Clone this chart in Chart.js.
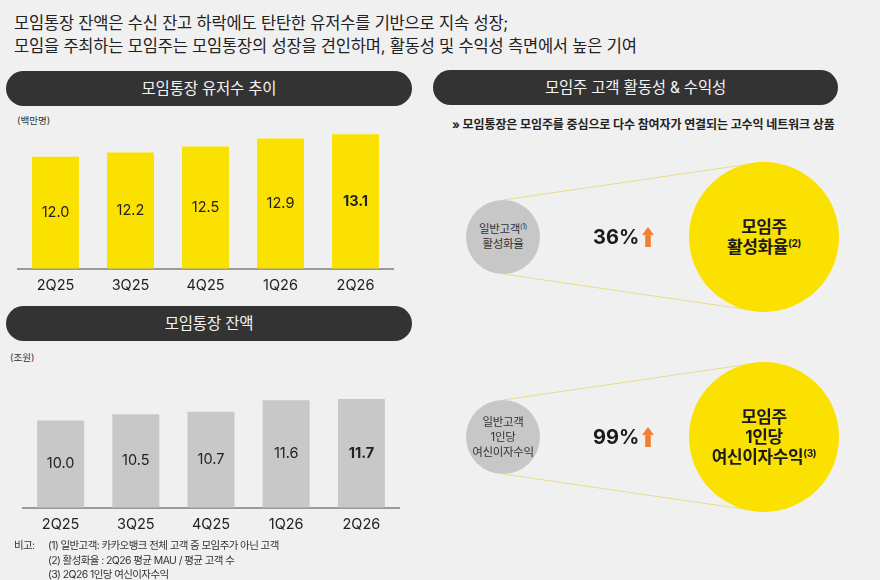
<!DOCTYPE html>
<html lang="ko">
<head>
<meta charset="utf-8">
<script src="https://cdn.jsdelivr.net/npm/chart.js@4.4.1/dist/chart.umd.min.js"></script>
<style>
  html, body { margin: 0; padding: 0; }
  body {
    width: 880px; height: 580px; position: relative; overflow: hidden;
    background: #f0f0f0; color: #222;
    font-family: Inter, "Noto Sans CJK KR", "Noto Sans", sans-serif;
  }
  .abs { position: absolute; }
  .title { left: 14px; top: 12px; font-size: 16.5px; line-height: 23px; letter-spacing: -0.2px; color: #222; }
  .pill {
    background: #333; color: #f4f4f4; border-radius: 18px; height: 35px;
    line-height: 35px; text-align: center; font-size: 15.5px; letter-spacing: -0.2px;
  }
  .unit { font-size: 9.5px; color: #333; }
  .sub { left: 452px; top: 115px; font-size: 12px; font-weight: 700; color: #222; letter-spacing: -0.1px; }
  .circle { border-radius: 50%; display: flex; align-items: center; justify-content: center; text-align: center; }
  .gray { background: #c7c7c7; width: 74px; height: 74px; color: #333; font-size: 11.5px; line-height: 15px; letter-spacing: -0.3px; }
  .yellow { background: #fae100; width: 150px; height: 150px; color: #1a1a1a; font-size: 17px; font-weight: 700; line-height: 20px; letter-spacing: -0.4px; }
  sup { font-size: 0.6em; vertical-align: 0.55em; line-height: 0; }
  .pct { font-size: 20px; font-weight: 700; color: #1a1a1a; display: flex; align-items: center; gap: 3px; }
  .note { left: 14px; top: 539px; font-size: 10.5px; line-height: 14.5px; color: #333; letter-spacing: -0.6px; }
  .note td { padding: 0; vertical-align: top; }
</style>
</head>
<body>

<div class="abs title">모임통장 잔액은 수신 잔고 하락에도 탄탄한 유저수를 기반으로 지속 성장;<br>모임을 주최하는 모임주는 모임통장의 성장을 견인하며, 활동성 및 수익성 측면에서 높은 기여</div>

<div class="abs pill" style="left:6px; top:71px; width:406px;">모임통장 유저수 추이</div>
<div class="abs unit" style="left:17px; top:113px;">(백만명)</div>
<canvas id="users" class="abs" style="left:0; top:110px;" width="410" height="192"></canvas>

<div class="abs pill" style="left:6px; top:306px; width:406px;">모임통장 잔액</div>
<div class="abs unit" style="left:10px; top:350px;">(조원)</div>
<canvas id="balance" class="abs" style="left:0; top:380px;" width="420" height="161"></canvas>

<div class="abs pill" style="left:433px; top:70px; width:405px;">모임주 고객 활동성 &amp; 수익성</div>
<div class="abs sub">» 모임통장은 모임주를 중심으로 다수 참여자가 연결되는 고수익 네트워크 상품</div>

<svg class="abs" style="left:0; top:0;" width="880" height="580">
  <g stroke="#e9dc8c" stroke-width="1" fill="none">
    <line x1="503" y1="200" x2="764" y2="162"></line>
    <line x1="503" y1="274" x2="764" y2="312"></line>
    <line x1="503" y1="400" x2="764" y2="362"></line>
    <line x1="503" y1="474" x2="764" y2="512"></line>
  </g>
</svg>

<div class="abs circle gray" style="left:466px; top:200px;"><div>일반고객<sup>(1)</sup><br>활성화율</div></div>
<div class="abs circle yellow" style="left:689px; top:162px;"><div>모임주<br>활성화율<sup>(2)</sup></div></div>
<div class="abs pct" id="pct0" style="left:593px; top:225px;"></div>

<div class="abs circle gray" style="left:466px; top:400px;"><div>일반고객<br>1인당<br>여신이자수익</div></div>
<div class="abs circle yellow" style="left:689px; top:362px;"><div>모임주<br>1인당<br>여신이자수익<sup>(3)</sup></div></div>
<div class="abs pct" id="pct1" style="left:593px; top:425px;"></div>

<table class="abs note" cellspacing="0">
  <tr><td style="width:34px;">비고:</td><td>(1) 일반고객: 카카오뱅크 전체 고객 중 모임주가 아닌 고객</td></tr>
  <tr><td></td><td>(2) 활성화율 : 2Q26 평균 MAU / 평균 고객 수</td></tr>
  <tr><td></td><td>(3) 2Q26 1인당 여신이자수익</td></tr>
</table>

<script>
const quarters = ['2Q25', '3Q25', '4Q25', '1Q26', '2Q26'];
const userCounts = [12.0, 12.2, 12.5, 12.9, 13.1];   // 백만명
const balances = [10.0, 10.5, 10.7, 11.6, 11.7];     // 조원
const uplift = [36, 99];                             // 모임주 vs 일반고객, %

const arrowSvg = '<svg width="12" height="20" viewBox="0 0 12 20">' +
  '<path d="M6 0 L12 8 L8.8 8 L8.8 20 L3.2 20 L3.2 8 L0 8 Z" fill="#f07f32"/></svg>';
uplift.forEach((v, i) => {
  document.getElementById('pct' + i).innerHTML = '<span>' + v + '%</span>' + arrowSvg;
});

// value written in the middle of the visible part of each bar, last one bold
const barLabels = {
  id: 'barLabels',
  afterDatasetsDraw(chart) {
    const ctx = chart.ctx;
    const values = chart.data.datasets[0].data;
    const bottom = chart.chartArea.bottom;
    ctx.save();
    ctx.textAlign = 'center';
    ctx.textBaseline = 'middle';
    ctx.fillStyle = '#222';
    chart.getDatasetMeta(0).data.forEach((bar, i) => {
      const last = i === values.length - 1;
      ctx.font = (last ? '700 ' : '400 ') + '14.5px Inter, "Noto Sans CJK KR"';
      ctx.fillText(values[i].toFixed(1), bar.x, (bar.y + Math.min(bar.base, bottom)) / 2);
    });
    ctx.restore();
  }
};

function makeBarChart(id, values, color, yMin, yMax, pad) {
  const ctx = document.getElementById(id).getContext('2d');
  return new Chart(ctx, {
    type: 'bar',
    data: {
      labels: quarters,
      datasets: [{
        data: values,
        backgroundColor: color,
        borderWidth: 0,
        categoryPercentage: 1,
        barPercentage: 0.625
      }]
    },
    options: {
      responsive: false,
      animation: false,
      layout: { padding: pad },
      scales: {
        x: {
          grid: { display: false, drawTicks: false },
          border: { display: true, color: '#9a9a9a', width: 2 },
          ticks: {
            color: '#222',
            padding: 8,
            font: { family: 'Inter, "Noto Sans CJK KR"', size: 14.5 }
          }
        },
        y: {
          display: false,
          min: yMin,
          max: yMax
        }
      },
      plugins: {
        legend: { display: false },
        tooltip: { enabled: false }
      }
    },
    plugins: [barLabels]
  });
}

makeBarChart('users', userCounts, '#fae100', 6.5, 14, { top: 6, left: 18, right: 17, bottom: 0 });
makeBarChart('balance', balances, '#c8c8c8', 3.1, 12.5, { top: 9, left: 23, right: 21, bottom: 0 });
</script>
</body>
</html>
